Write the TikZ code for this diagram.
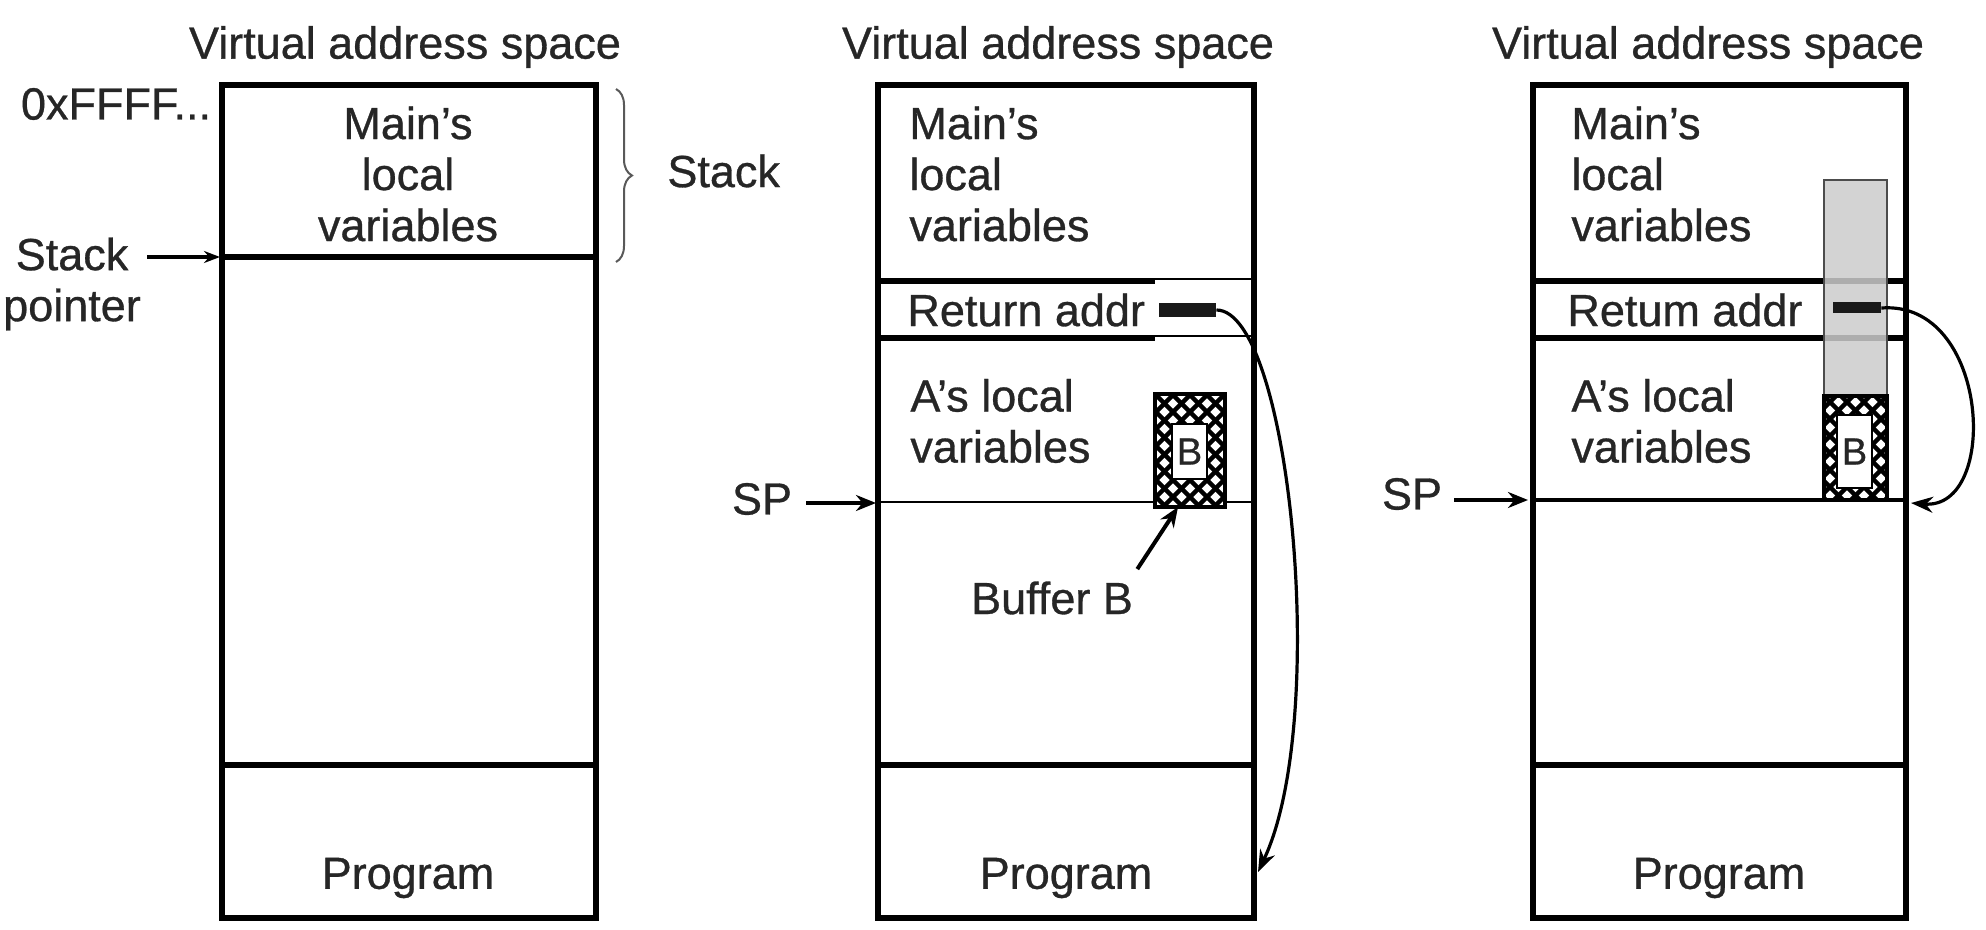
\documentclass[tikz,border=0pt]{standalone}
\usepackage{fontspec}
\setmainfont{Liberation Sans}
\newfontfamily\heavysans[FakeBold=0.7]{Liberation Sans}
\usetikzlibrary{decorations.pathreplacing,arrows.meta}
\newcommand{\hatchfill}[4]{%
  \begin{scope}
    \clip (#1,#2) rectangle (#3,#4);
    \fill[white] (#1,#2) rectangle (#3,#4);
    \foreach \k in {-12,...,12}{
      \draw[line width=2.2pt] ({#1+\k*17},#2) -- ++(150,150);
      \draw[line width=2.2pt] ({#3-\k*17},#2) -- ++(-150,150);
    }
  \end{scope}
  \draw[line width=2pt] (#1,#2) rectangle (#3,#4);
}
\begin{document}
\begin{tikzpicture}[x=0.5pt,y=-0.5pt,
  txt/.style={font=\heavysans\fontsize{22.5}{25.5}\selectfont, inner sep=0pt, text=black!85},
  btxt/.style={font=\heavysans\fontsize{19}{22}\selectfont, inner sep=0pt, text=black!85},
  boxline/.style={line width=2.6pt},
  thinline/.style={line width=1pt},
  ptr/.style={line width=2pt, -{Stealth[length=10pt,width=8pt]}},
  curvearrow/.style={line width=1.6pt, -{Stealth[length=11pt,width=8pt]}},
  bar/.style={fill=black!90, inner sep=0pt, minimum height=7pt},
  innerb/.style={draw, fill=white, line width=1pt, inner sep=0pt, minimum width=17.5pt, minimum height=27.5pt, btxt}
]
\useasboundingbox[fill=white] (0,0) rectangle (1986,930);

% ---------------- Panel 1 ----------------
\draw[boxline] (222,85) rectangle (596,918);
\draw[boxline] (222,257) -- (596,257);
\draw[boxline] (222,765) -- (596,765);
\node[txt] (t1) at (405,47) {Virtual address space};
\node[txt] (hex) at (116,104) {0xFFFF...};
\node[txt,align=center] (sp1) at (72,284) {Stack\\pointer};
\coordinate (sp1tip) at (220,257);
\draw[line width=2pt, -{Stealth[length=8pt,width=6pt]}] ([xshift=3pt]sp1.east |- sp1tip) -- (sp1tip);
\draw[decorate, decoration={brace, amplitude=8pt}, line width=1pt, black!65] (616,89) -- (616,262);
\node[txt,anchor=west] (stk) at (667,171) {Stack};
\node[txt,align=center] (m1) at (408,174) {Main’s\\local\\variables};
\node[txt] (p1) at (408,878) {Program};

% ---------------- Panel 2 ----------------
\draw[boxline] (878,85) rectangle (1254,918);
\draw[boxline] (878,281) -- (1155,281);
\draw[thinline] (1155,279) -- (1254,279);
\draw[boxline] (878,338) -- (1155,338);
\draw[thinline] (1155,336) -- (1254,336);
\draw[line width=1pt] (878,502) -- (1254,502);
\draw[boxline] (878,765) -- (1254,765);
\node[txt] (t2) at (1058,47) {Virtual address space};
\node[txt,align=left,anchor=west] (m2) at (909,174) {Main’s\\local\\variables};
\node[txt,anchor=west] (ra2) at (907,310) {Return addr};
\node[txt,align=left,anchor=west] (a2) at (910,421) {A’s local\\variables};
\node[txt] (p2) at (1066,878) {Program};
\hatchfill{1155}{394}{1225}{507}
\coordinate (buf2s) at (1178,507);
\node[innerb] (b2) at (1189.5,451.5) {B};
\node[bar, minimum width=28.5pt] (bar2) at (1187.5,310) {};
\coordinate (p2tip) at (1258,872);
\draw[curvearrow] (bar2.east) .. controls (1290,310) and (1330,720) .. (p2tip);
\node[txt] (sp2) at (762,499) {SP};
\coordinate (sp2tip) at (876,503);
\draw[ptr] ([xshift=7pt]sp2.east |- sp2tip) -- (sp2tip);
\node[txt] (bb) at (1052,598) {Buffer B};
\draw[ptr] ([xshift=2pt,yshift=6pt]bb.north east) -- (buf2s);

% ---------------- Panel 3 ----------------
\draw[boxline] (1533,85) rectangle (1906,918);
\draw[boxline] (1533,281) -- (1906,281);
\draw[boxline] (1533,338) -- (1906,338);
\draw[line width=1.6pt] (1533,500) -- (1906,500);
\draw[boxline] (1533,765) -- (1906,765);
\node[txt] (t3) at (1708,47) {Virtual address space};
\node[txt,align=left,anchor=west] (m3) at (1571,174) {Main’s\\local\\variables};
\node[txt,anchor=west] (ra3) at (1567,310) {Retum addr};
\node[txt,align=left,anchor=west] (a3) at (1571,421) {A’s local\\variables};
\node[txt] (p3) at (1719,878) {Program};
\fill[gray!40, fill opacity=0.85] (1824,180) rectangle (1887,396);
\draw[black!70, line width=1pt] (1824,396) -- (1824,180) -- (1887,180) -- (1887,396);
\hatchfill{1824}{396}{1887}{500}
\node[innerb, minimum height=36pt] (b3) at (1854.5,451.5) {B};
\node[bar, minimum width=24pt, minimum height=5.5pt] (bar3) at (1857,308) {};
\coordinate (p3tip) at (1911,503);
\draw[curvearrow] (bar3.east) .. controls (1990,300) and (2000,510) .. (p3tip);
\node[txt] (sp3) at (1412,494) {SP};
\coordinate (sp3tip) at (1528,500);
\draw[ptr] ([xshift=6pt]sp3.east |- sp3tip) -- (sp3tip);
\end{tikzpicture}
\end{document}
